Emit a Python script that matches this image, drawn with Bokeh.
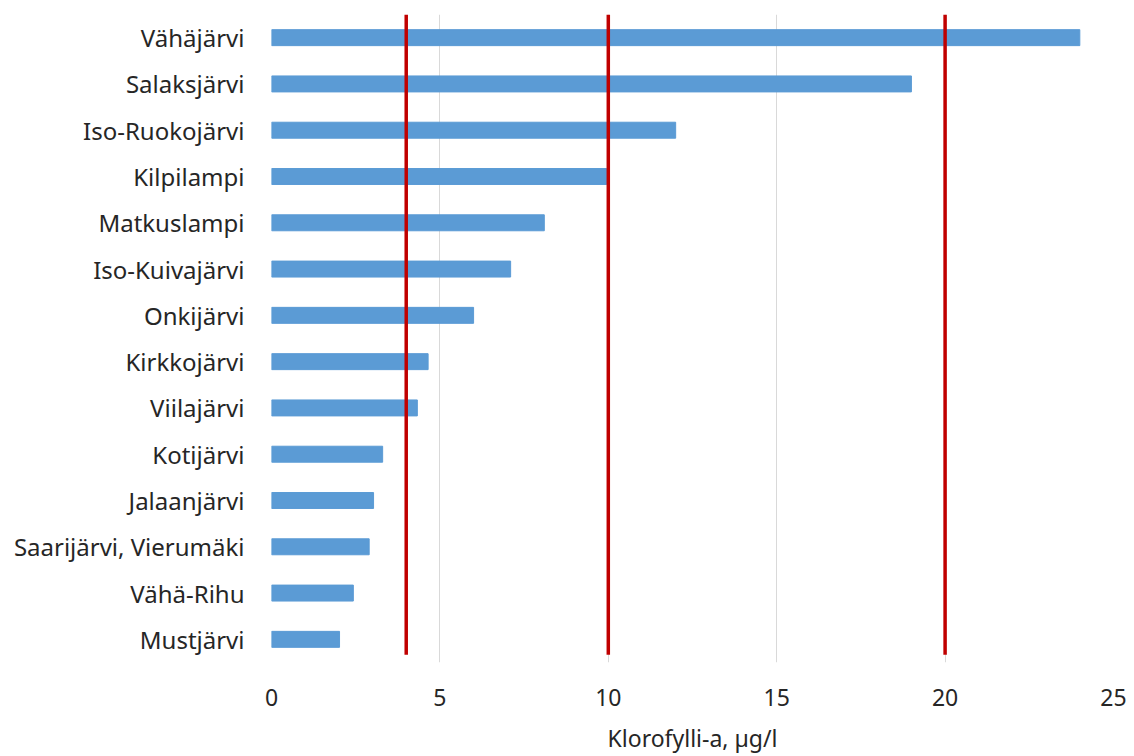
from bokeh.plotting import figure
from bokeh.models import Range1d, FixedTicker, ColumnDataSource
from bokeh.embed import file_html
from bokeh.resources import INLINE

lakes = ["Vähäjärvi", "Salaksjärvi", "Iso-Ruokojärvi", "Kilpilampi", "Matkuslampi",
         "Iso-Kuivajärvi", "Onkijärvi", "Kirkkojärvi", "Viilajärvi", "Kotijärvi",
         "Jalaanjärvi", "Saarijärvi, Vierumäki", "Vähä-Rihu", "Mustjärvi"]
chl = [24.0, 19.0, 12.0, 9.95, 8.1, 7.1, 6.0, 4.65, 4.33, 3.3, 3.03, 2.9, 2.43, 2.02]
thresholds = [4, 10, 20]
x_ticks = [0, 5, 10, 15, 20, 25]

n = len(lakes)
ypos = [n - 0.5 - i for i in range(n)]

p = figure(width=1134, height=756, output_backend="svg", toolbar_location=None,
           x_range=Range1d(0, 25), y_range=Range1d(0, n),
           min_border_left=271, min_border_right=21, min_border_top=14, min_border_bottom=93)
p.outline_line_color = None
p.background_fill_color = "white"

src = ColumnDataSource(dict(y=ypos, right=chl))
p.hbar(y="y", left=0, right="right", height=0.345, source=src, color="#5B9BD5")

seg = ColumnDataSource(dict(x=thresholds, y0=[0.17] * len(thresholds), y1=[n] * len(thresholds)))
p.segment(x0="x", x1="x", y0="y0", y1="y1", source=seg, line_color="#C00000", line_width=3.5)

p.xaxis.ticker = FixedTicker(ticks=x_ticks)
p.xgrid.ticker = FixedTicker(ticks=x_ticks)
p.xgrid.grid_line_color = "#D9D9D9"
p.ygrid.grid_line_color = None
p.xaxis.axis_line_color = None
p.xaxis.major_tick_line_color = None
p.xaxis.minor_tick_line_color = None
p.xaxis.major_label_text_font = "Noto Sans"
p.xaxis.major_label_text_font_size = "23px"
p.xaxis.major_label_text_color = "#262626"
p.xaxis.major_label_standoff = 20
p.xaxis.axis_label = "Klorofylli-a, µg/l"
p.xaxis.axis_label_text_font = "Noto Sans"
p.xaxis.axis_label_text_font_size = "23px"
p.xaxis.axis_label_text_font_style = "normal"
p.xaxis.axis_label_text_color = "#262626"
p.xaxis.axis_label_standoff = 13

p.yaxis.ticker = FixedTicker(ticks=ypos)
p.yaxis.major_label_overrides = {y: name for y, name in zip(ypos, lakes)}
p.yaxis.axis_line_color = None
p.yaxis.major_tick_line_color = None
p.yaxis.minor_tick_line_color = None
p.yaxis.major_label_text_font = "Noto Sans"
p.yaxis.major_label_text_font_size = "24px"
p.yaxis.major_label_text_color = "#262626"
p.yaxis.major_label_standoff = 21

open("out.html", "w").write(file_html(p, INLINE))
